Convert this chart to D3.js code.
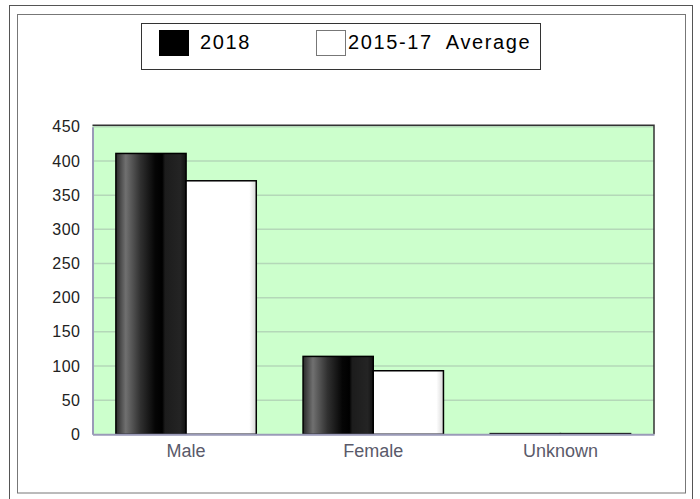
<!DOCTYPE html>
<html>
<head>
<meta charset="utf-8">
<script src="https://cdn.jsdelivr.net/npm/d3@7"></script>
<style>
  body { margin: 0; background: #fff; }
  svg { display: block; font-family: "Liberation Sans", Arial, sans-serif; }
</style>
</head>
<body>
<svg id="chart" width="700" height="499"></svg>
<script>
// data
var categories = ["Male", "Female", "Unknown"];
var seriesNames = ["2018", "2015-17  Average"];
var values2018 = [411, 114, 1];
var valuesAvg = [371, 93, 1];
var yTicks = [0, 50, 100, 150, 200, 250, 300, 350, 400, 450];

var svg = d3.select("#chart");

// frames
svg.append("rect").attr("x", 9.5).attr("y", 5.5).attr("width", 683).attr("height", 500)
    .attr("fill", "none").attr("stroke", "#555");
svg.append("rect").attr("x", 17.5).attr("y", 14.5).attr("width", 668).attr("height", 478.5)
    .attr("fill", "#fff").attr("stroke", "#777");

var plotLeft = 92.5, plotRight = 654, plotTop = 126.8, plotBottom = 434.3;

var x = d3.scaleBand().domain(categories).range([plotLeft, plotRight]).paddingInner(0.25).paddingOuter(0.125);
var xs = d3.scaleBand().domain(seriesNames).range([0, x.bandwidth()]);
var y = d3.scaleLinear().domain([0, 450]).range([plotBottom, plotTop]);

// gradients
var defs = svg.append("defs");
var g1 = defs.append("linearGradient").attr("id", "gBlack");
[[0, "#2a2a2a"], [0.14, "#707070"], [0.35, "#303030"], [0.56, "#050505"], [0.66, "#000"], [0.7, "#1c1c1c"], [0.92, "#242424"], [1, "#111"]]
    .forEach(function (s) { g1.append("stop").attr("offset", s[0]).attr("stop-color", s[1]); });
var g2 = defs.append("linearGradient").attr("id", "gWhite");
[[0, "#fff"], [0.9, "#fff"], [1, "#d8d8d8"]]
    .forEach(function (s) { g2.append("stop").attr("offset", s[0]).attr("stop-color", s[1]); });

// plot background
svg.append("rect").attr("x", plotLeft).attr("y", plotTop - 1.5)
    .attr("width", plotRight - plotLeft).attr("height", plotBottom - plotTop + 1.5)
    .attr("fill", "#ccffcc");

// grid
svg.append("g").selectAll("line").data(yTicks.slice(1)).enter().append("line")
    .attr("x1", plotLeft).attr("x2", plotRight)
    .attr("y1", function (d) { return y(d); }).attr("y2", function (d) { return y(d); })
    .attr("stroke", "#b4d8b8").attr("stroke-width", 1.5);

// plot border top/right
svg.append("path").attr("d", "M" + plotLeft + "," + (plotTop - 1.5) + "H" + plotRight + "V" + plotBottom)
    .attr("fill", "none").attr("stroke", "#333").attr("stroke-width", 1.5);

// bars
var series = [
    { name: seriesNames[0], values: values2018, fill: "url(#gBlack)" },
    { name: seriesNames[1], values: valuesAvg, fill: "url(#gWhite)" }
];
series.forEach(function (s) {
    svg.append("g").selectAll("rect").data(s.values).enter().append("rect")
        .attr("x", function (d, i) { return x(categories[i]) + xs(s.name); })
        .attr("y", function (d) { return y(d); })
        .attr("width", xs.bandwidth())
        .attr("height", function (d) { return plotBottom - y(d); })
        .attr("fill", s.fill)
        .attr("stroke", "#000").attr("stroke-width", 1.5);
});

// axes
var yAxis = svg.append("g").attr("transform", "translate(" + plotLeft + ",0)")
    .call(d3.axisLeft(y).tickValues(yTicks).tickSize(0).tickPadding(12));
yAxis.select(".domain").attr("stroke", "#9a9ab8").attr("stroke-width", 2);
yAxis.selectAll("text").attr("font-size", 16).attr("fill", "#222")
    .attr("font-family", "'Liberation Sans', Arial, sans-serif").attr("letter-spacing", 0.5);

var xAxis = svg.append("g").attr("transform", "translate(0," + plotBottom + ")")
    .call(d3.axisBottom(x).tickSize(0).tickPadding(10));
xAxis.select(".domain").attr("stroke", "#9a9ab8").attr("stroke-width", 2);
xAxis.selectAll("text").attr("font-size", 18).attr("fill", "#5a5a6a")
    .attr("font-family", "'Liberation Sans', Arial, sans-serif");

// legend
var lg = svg.append("g");
lg.append("rect").attr("x", 141.5).attr("y", 23.5).attr("width", 399).attr("height", 46)
    .attr("fill", "#fff").attr("stroke", "#333");
var legendX = [159, 316];
series.forEach(function (s, i) {
    lg.append("rect").attr("x", legendX[i] + 0.5).attr("y", 30.5).attr("width", 29).attr("height", 25)
        .attr("fill", i === 0 ? "#000" : "#fff").attr("stroke", i === 0 ? "#000" : "#777");
    lg.append("text").attr("x", legendX[i] + (i === 0 ? 41 : 32)).attr("y", 49)
        .attr("font-size", 20).attr("letter-spacing", 1.6).attr("fill", "#000")
        .style("white-space", "pre")
        .text(s.name);
});
</script>
</body>
</html>
